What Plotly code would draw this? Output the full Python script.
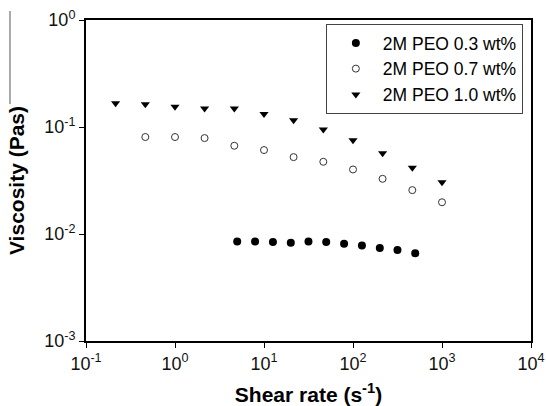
import plotly.graph_objects as go

# ---- data ----
shear_03 = [5.0, 7.94, 12.6, 20.0, 31.6, 50.0, 79.4, 126, 200, 316, 500]
visc_03 = [0.0085, 0.0085, 0.0084, 0.0083, 0.0085, 0.0084, 0.0081, 0.0078, 0.0074, 0.0071, 0.0066]

shear_07 = [0.464, 1.0, 2.15, 4.64, 10.0, 21.5, 46.4, 100, 215, 464, 1000]
visc_07 = [0.0806, 0.0806, 0.0788, 0.0668, 0.0609, 0.0523, 0.0473, 0.0401, 0.0328, 0.0257, 0.0198]

shear_10 = [0.215, 0.464, 1.0, 2.15, 4.64, 10.0, 21.5, 46.4, 100, 215, 464, 1000]
visc_10 = [0.167, 0.163, 0.155, 0.149, 0.149, 0.132, 0.1155, 0.095, 0.075, 0.0567, 0.0416, 0.0305]

series_names = ["2M PEO 0.3 wt%", "2M PEO 0.7 wt%", "2M PEO 1.0 wt%"]

x_tickvals = [0.1, 1, 10, 100, 1000, 10000]
x_ticktext = ["10<sup>-1</sup>", "10<sup>0</sup>", "10<sup>1</sup>", "10<sup>2</sup>", "10<sup>3</sup>", "10<sup>4</sup>"]
y_tickvals = [0.001, 0.01, 0.1, 1]
y_ticktext = ["10<sup>-3</sup>", "10<sup>-2</sup>", "10<sup>-1</sup>", "10<sup>0</sup>"]

x_title = "Shear rate (s<sup>-1</sup>)"
y_title = "Viscosity (Pas)"

FONT = "Arial, 'Liberation Sans', sans-serif"

fig = go.Figure()
fig.add_trace(go.Scatter(
    x=shear_03, y=visc_03, mode="markers", name=series_names[0],
    marker=dict(symbol="circle", size=8, color="#000000", line=dict(width=0)),
))
fig.add_trace(go.Scatter(
    x=shear_07, y=visc_07, mode="markers", name=series_names[1],
    marker=dict(symbol="circle", size=7, color="#ffffff", line=dict(width=1, color="#333333")),
))
fig.add_trace(go.Scatter(
    x=shear_10, y=visc_10, mode="markers", name=series_names[2],
    marker=dict(symbol="triangle-down", size=8, color="#000000", line=dict(width=0)),
))

axis_common = dict(
    showgrid=False, zeroline=False, showline=True, linecolor="#000000", linewidth=2,
    mirror=True, ticks="outside", ticklen=5, tickwidth=1, tickcolor="#000000",
    tickmode="array", tickfont=dict(family=FONT, size=18, color="#111111"),
)

fig.update_xaxes(type="log", range=[-1, 4], tickvals=x_tickvals, ticktext=x_ticktext,
                 title=dict(text=x_title, font=dict(family=FONT, size=21, color="#000000", weight="bold"), standoff=15),
                 **axis_common)
fig.update_yaxes(type="log", range=[-3, 0], tickvals=y_tickvals, ticktext=y_ticktext,
                 title=dict(text=y_title, font=dict(family=FONT, size=21, color="#000000", weight="bold"), standoff=14),
                 **axis_common)

fig.update_layout(
    width=546, height=406,
    margin=dict(l=86, r=15, t=20, b=65, autoexpand=False),
    paper_bgcolor="#ffffff", plot_bgcolor="#ffffff",
    font=dict(family=FONT, size=17, color="#000000"),
    showlegend=True,
    legend=dict(
        x=0.539, y=0.9875, xanchor="left", yanchor="top",
        bgcolor="#ffffff", bordercolor="#444444", borderwidth=1,
        font=dict(family=FONT, size=17.5, color="#000000"),
        itemwidth=44, indentation=2, tracegroupgap=0,
    ),
    shapes=[dict(type="line", xref="paper", yref="paper",
                 x0=-0.1708, x1=-0.1708, y0=1.028, y1=0.738,
                 line=dict(color="#555555", width=1))],
)

fig.write_html("out.html", config={"displayModeBar": False},
               post_script="document.body.style.margin='0';")
